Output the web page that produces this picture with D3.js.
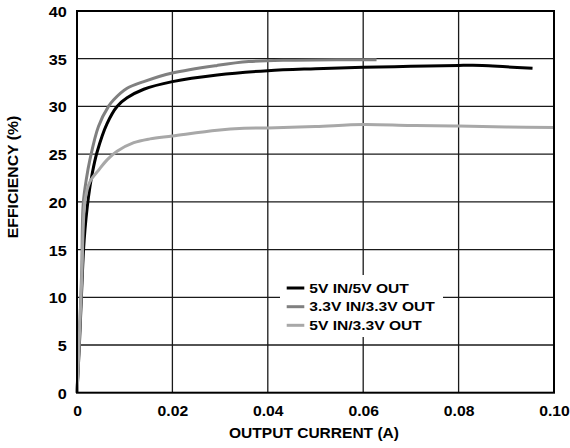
<!DOCTYPE html>
<html>
<head>
<meta charset="utf-8">
<script src="https://cdn.jsdelivr.net/npm/d3@7"></script>
<style>
  html, body { margin: 0; padding: 0; background: #fff; }
  svg { display: block; }
  text { font-family: "Liberation Sans", Arial, Helvetica, sans-serif; font-weight: bold; fill: #000; }
</style>
</head>
<body>
<svg id="chart" width="570" height="448"></svg>
<script>
// ---- data ----
const xTicks = [0, 0.02, 0.04, 0.06, 0.08, 0.10];
const xTickLabels = ["0", "0.02", "0.04", "0.06", "0.08", "0.10"];
const yTicks = [0, 5, 10, 15, 20, 25, 30, 35, 40];
const seriesNames = ["5V IN/5V OUT", "3.3V IN/3.3V OUT", "5V IN/3.3V OUT"];
const seriesColors = ["#000000", "#808080", "#a8a8a8"];

// current (A), efficiency (%)
const s5v5vX = [0, 0.0005, 0.001, 0.0015, 0.0024, 0.0032, 0.0042, 0.0063, 0.0084, 0.0105, 0.014, 0.02, 0.0294, 0.04, 0.05, 0.06, 0.07, 0.08, 0.085, 0.09, 0.0955];
const s5v5vY = [0, 5, 11, 16, 20.5, 23, 25.2, 28.2, 30, 30.9, 31.8, 32.6, 33.3, 33.75, 33.95, 34.1, 34.2, 34.3, 34.3, 34.15, 34.0];

const s33v33vX = [0, 0.0005, 0.001, 0.0013, 0.002, 0.0027, 0.0045, 0.0066, 0.0077, 0.0105, 0.014, 0.02, 0.0294, 0.036, 0.045, 0.055, 0.0628];
const s33v33vY = [0, 6, 13, 19.8, 22.5, 24.4, 27.9, 30, 30.7, 31.9, 32.6, 33.5, 34.3, 34.7, 34.85, 34.9, 34.9];

const s5v33vX = [0, 0.0005, 0.001, 0.0017, 0.0027, 0.0045, 0.0063, 0.0084, 0.0119, 0.0153, 0.02, 0.0294, 0.035, 0.04, 0.05, 0.06, 0.07, 0.08, 0.09, 0.1];
const s5v33vY = [0, 6, 12, 20.2, 22.1, 23.3, 24.4, 25.3, 26.2, 26.6, 26.9, 27.5, 27.7, 27.75, 27.9, 28.1, 28.0, 27.95, 27.85, 27.8];

const seriesX = [s5v5vX, s33v33vX, s5v33vX];
const seriesY = [s5v5vY, s33v33vY, s5v33vY];

// ---- layout ----
const L = 77, R = 554, T = 11, B = 392.7;
const svg = d3.select("#chart");
const x = d3.scaleLinear().domain([0, 0.10]).range([L, R]);
const y = d3.scaleLinear().domain([0, 40]).range([B, T]);

// gridlines
const grid = svg.append("g").attr("stroke", "#1a1a1a").attr("stroke-width", 1.3);
grid.selectAll("line.v").data(xTicks.slice(1, -1)).join("line")
  .attr("x1", d => x(d)).attr("x2", d => x(d)).attr("y1", T).attr("y2", B);
grid.selectAll("line.h").data(yTicks.slice(1, -1)).join("line")
  .attr("x1", L).attr("x2", R).attr("y1", d => y(d)).attr("y2", d => y(d));

// legend background
const legX = 280, legY = 275, legW = 163, legH = 62;
svg.append("rect").attr("x", legX).attr("y", legY).attr("width", legW).attr("height", legH).attr("fill", "#fff");

// curves
const line = d3.line().x(d => x(d[0])).y(d => y(d[1])).curve(d3.curveCatmullRom.alpha(0.5));
seriesNames.forEach((name, i) => {
  const pts = seriesX[i].map((v, j) => [v, seriesY[i][j]]);
  svg.append("path").datum(pts)
    .attr("d", line)
    .attr("fill", "none")
    .attr("stroke", seriesColors[i])
    .attr("stroke-width", 3)
    .attr("stroke-linejoin", "round");
});

// frame
svg.append("rect").attr("x", L).attr("y", T).attr("width", R - L).attr("height", B - T)
  .attr("fill", "none").attr("stroke", "#000").attr("stroke-width", 2);

// axes (labels only)
const xAxis = d3.axisBottom(x).tickValues(xTicks).tickFormat((d, i) => xTickLabels[i]).tickSize(0);
const gx = svg.append("g").attr("transform", `translate(0,${B})`).call(xAxis);
gx.select(".domain").remove();
gx.selectAll("text").attr("y", 23).attr("dy", 0)
  .style("font-size", "14.3px").attr("transform", "scale(1.1,1)");

const yAxis = d3.axisLeft(y).tickValues(yTicks).tickFormat(d3.format("d")).tickSize(0);
const gy = svg.append("g").attr("transform", `translate(${L},0)`).call(yAxis);
gy.select(".domain").remove();
gy.selectAll("text").attr("x", -9.2).attr("dy", "5.5px")
  .style("font-size", "14.5px").attr("transform", "scale(1.12,1)");

// axis titles
svg.append("text").attr("transform", "translate(314,438.3) scale(1.11,1)")
  .attr("text-anchor", "middle").style("font-size", "14px").text("OUTPUT CURRENT (A)");
svg.append("text").attr("transform", "translate(18.3,177) rotate(-90) scale(1.13,1)")
  .attr("text-anchor", "middle").style("font-size", "14px").text("EFFICIENCY (%)");

// legend
const legRowY = [288, 306.7, 325.3];
seriesNames.forEach((name, i) => {
  svg.append("line").attr("x1", 286.7).attr("x2", 304.3)
    .attr("y1", legRowY[i]).attr("y2", legRowY[i])
    .attr("stroke", seriesColors[i]).attr("stroke-width", 3);
  svg.append("text").attr("transform", `translate(309.3,${legRowY[i] + 4.7}) scale(1.2,1)`)
    .style("font-size", "13px").text(name);
});
</script>
</body>
</html>
